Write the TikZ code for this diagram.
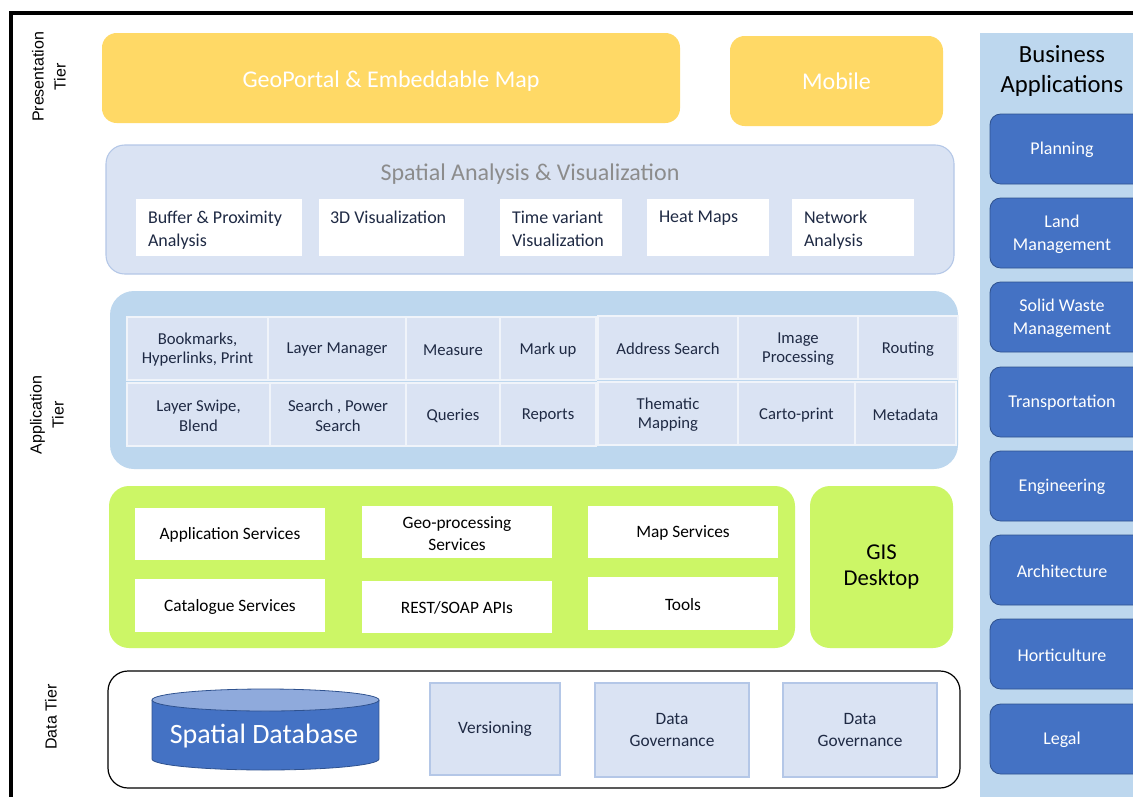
\documentclass[tikz,border=0pt]{standalone}
\usepackage{fontspec}
\setmainfont{Carlito}
\newfontfamily\arialf{Liberation Sans}
\usetikzlibrary{fit}
\definecolor{yel}{HTML}{FFD966}
\definecolor{palebl}{HTML}{DAE3F3}
\definecolor{palebd}{HTML}{B4C7E7}
\definecolor{midbl}{HTML}{BDD7EE}
\definecolor{blu}{HTML}{4472C4}
\definecolor{bludk}{HTML}{2F528F}
\definecolor{limeg}{RGB}{204,246,102}
\definecolor{txt}{HTML}{1F2A44}
\definecolor{greyt}{HTML}{8C8C8C}
\definecolor{dbtop}{HTML}{8FAADC}
\tikzset{
 yelbox/.style={fill=yel, rounded corners=11pt, inner sep=0pt, text=white, font=\fontsize{18}{20}\selectfont},
 sppanel/.style={fill=palebl, draw=palebd, line width=0.8pt, rounded corners=14pt, inner sep=0pt},
 whitebox/.style={fill=white, inner sep=0pt},
 sptext/.style={anchor=north west, align=left, text=txt, inner sep=0pt, font=\fontsize{13.5}{17}\selectfont},
 apppanel/.style={fill=midbl, rounded corners=18pt, inner sep=0pt},
 cell/.style={fill=palebl, draw=white!60!palebl, line width=1pt, inner sep=0pt, align=center, text=txt, font=\fontsize{12.5}{14.5}\selectfont},
 limepanel/.style={fill=limeg, rounded corners=15pt, inner sep=0pt},
 svcbox/.style={fill=white, inner sep=0pt, align=center, text=black, font=\fontsize{13}{16.5}\selectfont},
 datapanel/.style={draw=black, line width=0.9pt, fill=white, rounded corners=15pt, inner sep=0pt},
 dbox/.style={fill=palebl, draw=palebd, line width=0.8pt, inner sep=0pt, align=center, text=txt, font=\fontsize{13}{17}\selectfont},
 bizbox/.style={fill=blu, draw=bludk, line width=0.6pt, rounded corners=8pt, inner sep=0pt, align=center, text=white, font=\fontsize{13.5}{17}\selectfont},
 tierlabel/.style={rotate=90, align=center, inner sep=0pt, font=\arialf\fontsize{12}{16.5}\selectfont},
 frameline/.style={line width=3pt, black},
}
\begin{document}
\begin{tikzpicture}[x=0.75pt,y=-0.75pt]
\clip (0,0) rectangle (1133,797);
\fill[white] (0,0) rectangle (1133,797);
% frame
\coordinate (ftl) at (11,13);
\coordinate (ftr) at (1140,13);
\coordinate (fbl) at (11,800);
\draw[frameline] (ftr) -- (ftl) -- (fbl);

% tier labels
\node[tierlabel] (lpres) at (49,77) {Presentation\\Tier};
\node[tierlabel] (lapp) at (47,415) {Application\\Tier};
\node[tierlabel] (ldata) at (51,717) {Data Tier};

% Presentation tier
\node[yelbox, fit={(102,33) (680,123)}] (geo) {};
\node[text=white, font=\fontsize{18}{20}\selectfont] at ([yshift=-2.5pt]geo.center) {GeoPortal \& Embeddable Map};
\node[yelbox, fit={(730,36) (943,126)}] (mob) {};
\node[text=white, font=\fontsize{18}{20}\selectfont] at (mob.center) {Mobile};

% Spatial analysis
\node[sppanel, fit={(106,145) (954,274)}] (spa) {};
\node[text=greyt, font=\fontsize{18}{20}\selectfont] (spat) at (530,174) {Spatial Analysis \& Visualization};
\node[whitebox, fit={(136,199) (302,256)}] (s1) {};
\node[whitebox, fit={(319,199) (464,256)}] (s2) {};
\node[whitebox, fit={(500,199) (622,256)}] (s3) {};
\node[whitebox, fit={(647,199) (769,256)}] (s4) {};
\node[whitebox, fit={(792,199) (914,256)}] (s5) {};
\node[sptext] at ([shift={(12,12)}]s1.north west) {Buffer \& Proximity\\Analysis};
\node[sptext] at ([shift={(11,12)}]s2.north west) {3D Visualization};
\node[sptext] at ([shift={(12,12)}]s3.north west) {Time variant\\Visualization};
\node[sptext] at ([shift={(12,12)}]s4.north west) {Heat Maps};
\node[sptext] at ([shift={(12,12)}]s5.north west) {Network\\Analysis};

% Application panel
\node[apppanel, fit={(110,291) (958,469)}] (app) {};
\node[cell, fit={(127,317) (268,380)}] (a11) {};
\node[cell, fit={(268,317) (406,380)}] (a12) {};
\node[cell, fit={(406,317) (500,380)}] (a13) {};
\node[cell, fit={(500,317) (596,380)}] (a14) {};
\node[cell, fit={(598,316) (738,379)}] (a15) {};
\node[cell, fit={(738,316) (858,379)}] (a16) {};
\node[cell, fit={(858,316) (958,379)}] (a17) {};
\node[cell, fit={(127,383) (270,446)}] (a21) {};
\node[cell, fit={(270,383) (406,446)}] (a22) {};
\node[cell, fit={(406,383) (500,446)}] (a23) {};
\node[cell, fit={(500,383) (596,446)}] (a24) {};
\node[cell, fit={(598,382) (738,445)}] (a25) {};
\node[cell, fit={(738,382) (855,445)}] (a26) {};
\node[cell, fit={(855,382) (956,445)}] (a27) {};
\foreach \n/\t in {a11/{Bookmarks,\\Hyperlinks, Print}, a12/{Layer Manager}, a13/{Measure}, a14/{Mark up},
  a15/{Address Search}, a16/{Image\\Processing}, a17/{Routing},
  a21/{Layer Swipe,\\Blend}, a22/{Search , Power\\Search}, a23/{Queries}, a24/{Reports},
  a25/{Thematic\\Mapping}, a26/{Carto-print}, a27/{Metadata}}
  \node[align=center, text=txt, font=\fontsize{12.5}{14.5}\selectfont] at ([yshift=-1pt]\n.center) {\t};

% Services
\node[limepanel, fit={(109,486) (795,648)}] (svc) {};
\node[limepanel, fit={(810,486) (953,648)}] (gis) {};
\node[align=center, font=\fontsize{17}{20}\selectfont] at (gis.center) {GIS\\Desktop};
\node[svcbox, fit={(135,508) (325,560)}] (v1) {};
\node[svcbox, fit={(362,506) (552,558)}] (v2) {};
\node[svcbox, fit={(588,506) (778,558)}] (v3) {};
\node[svcbox, fit={(135,579) (325,632)}] (v4) {};
\node[svcbox, fit={(362,581) (552,633)}] (v5) {};
\node[svcbox, fit={(588,577) (778,630)}] (v6) {};
\foreach \n/\t in {v1/{Application Services}, v2/{Geo-processing\\Services}, v3/{Map Services},
  v4/{Catalogue Services}, v5/{REST/SOAP APIs}, v6/{Tools}}
  \node[align=center, font=\fontsize{13}{16.5}\selectfont] at ([yshift=-1pt]\n.center) {\t};

% Data tier
\node[datapanel, fit={(108,671) (960,788)}] (data) {};
\coordinate (dbtl) at (152,700);
\coordinate (dbbl) at (152,759);
\coordinate (dbtr) at (379,700);
\fill[blu] (dbtl) -- (dbbl) arc[start angle=180, end angle=360, x radius=85.1pt, y radius=8.25pt] -- (dbtr) -- cycle;
\draw[bludk, line width=0.6pt] (dbtl) -- (dbbl) arc[start angle=180, end angle=360, x radius=85.1pt, y radius=8.25pt] -- (dbtr);
\filldraw[fill=dbtop, draw=bludk, line width=0.6pt] (265.5,700) ellipse [x radius=85.1pt, y radius=8.25pt];
\node[text=white, font=\fontsize{21}{24}\selectfont] (db) at (264,736) {Spatial Database};
\node[dbox, fit={(430,683) (560,775)}] (d1) {};
\node[dbox, fit={(595,683) (749,777)}] (d2) {};
\node[dbox, fit={(783,683) (937,777)}] (d3) {};
\node[align=center, text=txt, font=\fontsize{13}{17}\selectfont] at (d1.center) {Versioning};
\node[align=center, text=txt, font=\fontsize{13}{17}\selectfont] at (d2.center) {Data\\Governance};
\node[align=center, text=txt, font=\fontsize{13}{17}\selectfont] at (d3.center) {Data\\Governance};

% Business applications
\fill[midbl] (980,33) rectangle (1140,800);
\node[align=center, font=\fontsize{18.5}{23}\selectfont] (biz) at (1062,71) {Business\\Applications};
\foreach \n/\y/\t in {b1/114/{Planning}, b2/198/{Land\\Management}, b3/282/{Solid Waste\\Management},
  b4/367/{Transportation}, b5/451/{Engineering}, b6/535/{Architecture}, b7/619/{Horticulture}, b8/704/{Legal}}
{
  \node[bizbox, fit={(990,\y) (1145,\y+70)}] (\n) {};
  \node[align=center, text=white, font=\fontsize{13.5}{17}\selectfont] at (1062,\y+36) {\t};
}
\end{tikzpicture}
\end{document}
